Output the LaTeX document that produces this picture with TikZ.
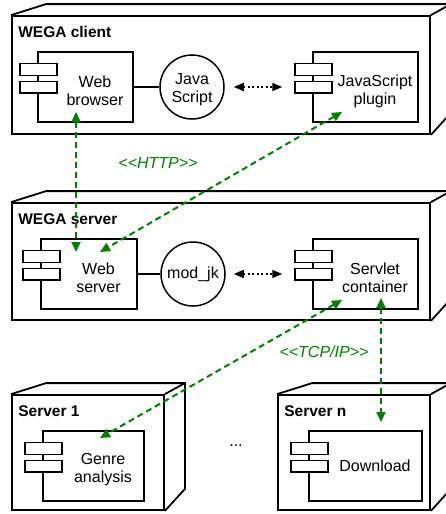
\documentclass[tikz,border=0pt]{standalone}
\usepackage{fontspec}
\setmainfont{Liberation Sans}
\usetikzlibrary{arrows.meta,calc}
\definecolor{dgreen}{RGB}{0,128,0}
\newcommand\mynode[6]{%
  \node[nodebox, minimum width=#4pt, minimum height=#5pt] (#1) at (#2,#3) {};
  \draw[nodeside] (#1.north west) -- ++(35pt,11pt) -- ($(#1.north east)+(20pt,11pt)$) -- ($(#1.south east)+(20pt,22pt)$) -- (#1.south east);
  \draw[nodeside] (#1.north east) -- ++(20pt,11pt);
  \node[titletext] (#1-title) at ([shift={(7pt,-22pt)}]#1.north west) {#6};
}
\newcommand\mycomp[6]{%
  \node[compbox, minimum width=#4pt] (#1) at (#2,#3) {};
  \draw[comprect] ([shift={(-17.5pt,-12pt)}]#1.north west) rectangle ++(37pt,-12pt);
  \draw[comprect] ([shift={(-17.5pt,-30pt)}]#1.north west) rectangle ++(37pt,-11.5pt);
  \node[ctext] (#1-text) at ([shift={(9.5pt,#6)}]#1.center) {#5};
}
\begin{document}
\begin{tikzpicture}[x=1pt,y=-1pt,
  nodebox/.style={draw, line width=1.8pt, inner sep=0pt, fill=white},
  nodeside/.style={draw, line width=1.8pt, line join=miter},
  compbox/.style={draw, line width=1.5pt, minimum height=70pt, inner sep=0pt},
  comprect/.style={draw, line width=1.5pt, fill=white},
  ctext/.style={font=\fontsize{16}{18}\selectfont, align=center, inner sep=0pt},
  titletext/.style={font=\fontsize{15.5}{18}\selectfont\bfseries, inner sep=0pt, anchor=base west},
  iface/.style={draw, circle, line width=1.5pt, minimum size=64pt, inner sep=0pt},
  comm/.style={draw=dgreen, line width=2pt, dash pattern=on 6pt off 4pt, {Triangle[length=10pt,width=9pt,fill=dgreen]}-{Triangle[length=10pt,width=9pt,fill=dgreen]}},
  dep/.style={draw=black, line width=1.5pt, dash pattern=on 2pt off 2.5pt, {Triangle[length=10pt,width=8pt]}-{Triangle[length=10pt,width=8pt]}},
  proto/.style={text=dgreen, font=\fontsize{16}{18}\selectfont\itshape, inner sep=0pt},
]
\useasboundingbox (0,0) rectangle (446,514);
\fill[white] (0,0) rectangle (446,514);
\clip (0,0) rectangle (446,514);

% deployment nodes
\mynode{client}{221}{75}{418}{118}{WEGA client}
\mynode{server}{221}{261.5}{418}{117}{WEGA server}
\mynode{serverone}{88}{452.5}{152}{115}{Server 1}
\mynode{servern}{354}{452.5}{152}{115}{Server n}

% components
\mycomp{browser}{85.5}{87}{95}{Web\\browser}{-4pt}
\mycomp{plugin}{365.5}{87}{105}{JavaScript\\plugin}{-4pt}
\mycomp{webserver}{89}{274}{96}{Web\\server}{-4pt}
\mycomp{servlet}{365.5}{274}{105}{Servlet\\container}{-4pt}
\mycomp{genre}{93.5}{466}{101}{Genre\\analysis}{-4pt}
\mycomp{download}{365.5}{466}{113}{Download}{0pt}

% interfaces
\node[iface] (js) at (192,87) {};
\node[ctext] (js-text) at ([yshift=-3pt]js.center) {Java\\Script};
\node[iface] (modjk) at (193,274) {};
\node[ctext] (modjk-text) at (modjk.center) {mod\_jk};

\node[ctext] (dots) at (236,446) {...};

% solid and dotted connectors
\draw[line width=1.5pt] (browser) -- (js);
\draw[line width=1.5pt] (webserver) -- (modjk);
\draw[dep, shorten <=9pt, shorten >=30pt] (js) -- (plugin);
\draw[dep, shorten <=8pt, shorten >=30pt] (modjk) -- (servlet);

% communication paths
\coordinate (h1) at (76,112);
\coordinate (h2) at (76,252);
\coordinate (h3) at (342,112);
\coordinate (h4) at (100,252);
\coordinate (t1) at (342,300);
\coordinate (t2) at (100,438);
\coordinate (t3) at (381,298);
\coordinate (t4) at (381,422);
\draw[comm] (h1) -- (h2);
\draw[comm] (h3) -- (h4);
\draw[comm] (t1) -- (t2);
\draw[comm] (t3) -- (t4);

\node[proto] (http) at (158,163) {<\kern0pt<HTTP>\kern0pt>};
\node[proto] (tcp) at (324,352) {<\kern0pt<TCP/IP>\kern0pt>};
\end{tikzpicture}
\end{document}
